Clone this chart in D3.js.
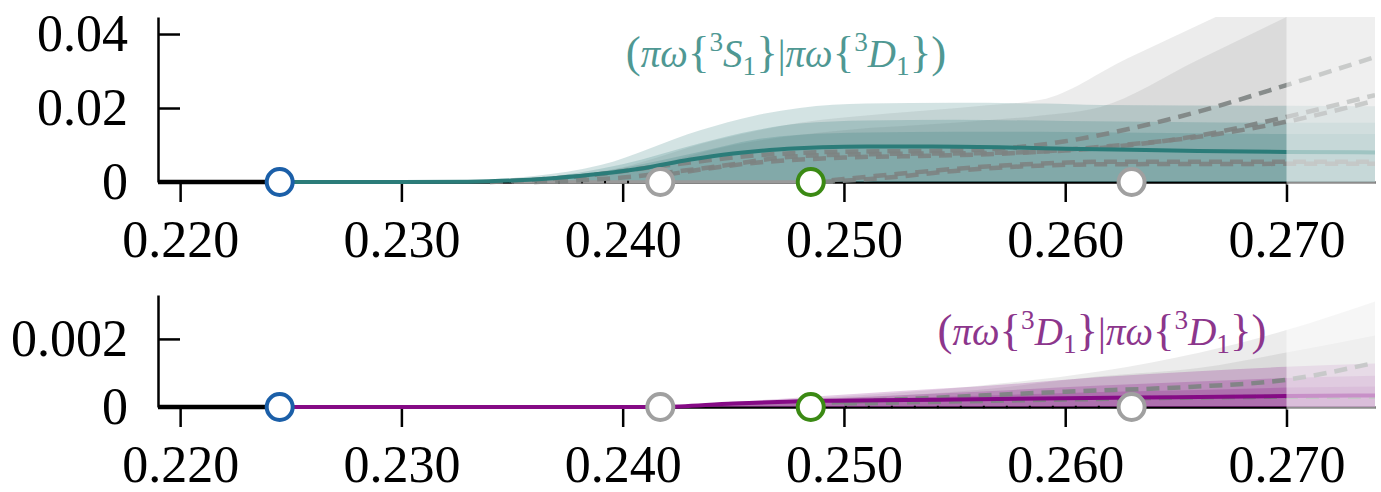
<!DOCTYPE html>
<html>
<head>
<meta charset="utf-8">
<script src="https://cdn.jsdelivr.net/npm/d3@7"></script>
<style>
body { margin: 0; background: #fff; }
svg { display: block; }
</style>
</head>
<body>
<svg id="chart" width="1381" height="492"></svg>
<script>
// values
const xTicks = [0.220, 0.230, 0.240, 0.250, 0.260, 0.270];
const xDomain = [0.219, 0.274];
const fadeFrom = 0.270;
const markerX = [0.2245, 0.2417, 0.2485, 0.2630];
const markerKind = ["blue", "gray", "green", "gray"];
const preLine = [[0.219, 0], [0.2245, 0]];

// top panel: (πω{3S1}|πω{3D1})
const topTicks = [0, 0.02, 0.04];
const topMax = 0.0446;
const topLine = [[0.2245, 0], [0.230, 0], [0.233, 0.0001], [0.235, 0.0004], [0.237, 0.0011], [0.239, 0.0022], [0.241, 0.0038], [0.243, 0.0060], [0.245, 0.0077], [0.247, 0.0088], [0.249, 0.0094], [0.251, 0.0096], [0.254, 0.0096], [0.257, 0.0094], [0.260, 0.0090], [0.263, 0.0087], [0.266, 0.0084], [0.270, 0.0081], [0.274, 0.0080]];
const topBandOuter = [[0.231, 0], [0.236, 0.0016], [0.239, 0.0046], [0.2435, 0.0140], [0.246, 0.0180], [0.248, 0.0200], [0.251, 0.0212], [0.255, 0.0214], [0.259, 0.0212], [0.2616, 0.0208], [0.270, 0.0206], [0.274, 0.0205]];
const topBandMid = [[0.232, 0], [0.236, 0.0010], [0.240, 0.0048], [0.2435, 0.0105], [0.246, 0.0140], [0.248, 0.0158], [0.251, 0.0166], [0.255, 0.0168], [0.260, 0.0165], [0.270, 0.0160], [0.274, 0.0160]];
const topBandInner = [[0.233, 0], [0.237, 0.0010], [0.240, 0.0038], [0.2435, 0.0082], [0.246, 0.0115], [0.248, 0.0128], [0.251, 0.0134], [0.255, 0.0136], [0.260, 0.0135], [0.270, 0.0130], [0.274, 0.0130]];
const topGrayOuter = [[0.236, 0], [0.240, 0.0040], [0.244, 0.0110], [0.248, 0.0160], [0.252, 0.0185], [0.256, 0.0205], [0.2589, 0.0222], [0.2628, 0.0334], [0.2668, 0.0446], [0.274, 0.0650]];
const topGrayInner = [[0.237, 0], [0.241, 0.0040], [0.245, 0.0100], [0.250, 0.0140], [0.255, 0.0160], [0.2589, 0.0180], [0.2616, 0.0203], [0.2659, 0.0327], [0.270, 0.0446], [0.274, 0.0560]];
const topDashA = [[0.234, 0], [0.238, 0.0015], [0.242, 0.0045], [0.246, 0.0072], [0.250, 0.0082], [0.254, 0.0084], [0.257, 0.0090], [0.260, 0.0110], [0.263, 0.0145], [0.266, 0.0190], [0.270, 0.0262], [0.274, 0.0338]];
const topDashB = [[0.236, 0], [0.240, 0.0012], [0.244, 0.0040], [0.248, 0.0070], [0.252, 0.0076], [0.256, 0.0078], [0.260, 0.0085], [0.2616, 0.0092], [0.266, 0.0125], [0.270, 0.0176], [0.274, 0.0235]];
const topDashC = [[0.242, 0.0020], [0.246, 0.0052], [0.250, 0.0066], [0.254, 0.0071], [0.258, 0.0079], [0.262, 0.0097], [0.266, 0.0122], [0.270, 0.0163], [0.274, 0.0220]];
const topDashD = [[0.2485, 0], [0.250, 0.0008], [0.253, 0.0025], [0.256, 0.0040], [0.259, 0.0050], [0.262, 0.0055], [0.266, 0.0055], [0.274, 0.0055]];
const topDashE = [[0.249, 0], [0.252, 0.0012], [0.255, 0.0030], [0.258, 0.0042], [0.262, 0.0048], [0.270, 0.0049], [0.274, 0.0049]];
const topGrayZero = [[0.235, 0], [0.2495, 0]];
const topDotZero = [[0.2350, 0], [0.2420, 0]];

// bottom panel: (πω{3D1}|πω{3D1})
const botTicks = [0, 0.002];
const botMax = 0.00329;
const botLine = [[0.2245, 0], [0.2417, 0], [0.245, 0.0001], [0.249, 0.00018], [0.255, 0.00022], [0.260, 0.00026], [0.265, 0.00029], [0.270, 0.00032], [0.274, 0.00034]];
const botBandOuter = [[0.2417, 0], [0.2485, 0.00030], [0.252, 0.00045], [0.256, 0.00060], [0.2616, 0.00088], [0.266, 0.00105], [0.270, 0.00118], [0.274, 0.00128]];
const botBandMid = [[0.2417, 0], [0.2485, 0.00022], [0.252, 0.00033], [0.256, 0.00045], [0.2616, 0.00063], [0.266, 0.00075], [0.270, 0.00085], [0.274, 0.00092]];
const botBandInner = [[0.2417, 0], [0.2485, 0.00015], [0.252, 0.00025], [0.256, 0.00033], [0.2616, 0.00044], [0.266, 0.00050], [0.270, 0.00057], [0.274, 0.00060]];
const botGrayOuter = [[0.2417, 0], [0.2485, 0.00025], [0.256, 0.00062], [0.2616, 0.00105], [0.2661, 0.0016], [0.270, 0.00226], [0.274, 0.0031]];
const botGrayInner = [[0.2417, 0], [0.2485, 0.00020], [0.256, 0.00050], [0.2616, 0.00090], [0.2661, 0.00115], [0.270, 0.0016], [0.274, 0.0021]];
const botDashA = [[0.2485, 0.0001], [0.255, 0.0003], [0.260, 0.00045], [0.2656, 0.00059], [0.270, 0.0008], [0.274, 0.0013]];
const botDashB = [[0.250, 0.0001], [0.260, 0.00022], [0.270, 0.0003], [0.274, 0.0003]];
const botDotZero = [[0.2490, 0], [0.2620, 0]];

const markerColor = {blue: "#1b5fa8", green: "#3b8a14", gray: "#a0a0a0"};
const FONT = "'Liberation Serif', 'Times New Roman', serif";

const svg = d3.select("#chart");
const x = d3.scaleLinear().domain(xDomain).range([158, 1375]);

const panels = [
	{
		id: "top", top: 17, base: 182, max: topMax, ticks: topTicks, tickFmt: d => d === 0 ? "0" : d3.format(".2f")(d),
		color: "#2e7d7a", lineColor: "#2b7c79", labelColor: "#4f9893",
		line: topLine, bands: [topBandOuter, topBandMid, topBandInner], bandAlpha: 0.21,
		grays: [topGrayOuter, topGrayInner],
		dashes: [topDashA, topDashB, topDashC, topDashD, topDashE],
		grayZero: topGrayZero, dotZero: topDotZero,
		label: [["(", "r"], ["πω", "i"], ["{", "r"], ["3", "sup"], ["S", "i"], ["1", "sub"], ["}", "r"], ["|", "r"], ["πω", "i"], ["{", "r"], ["3", "sup"], ["D", "i"], ["1", "sub"], ["}", "r"], [")", "r"]],
		labelX: 786, labelY: 67,
	},
	{
		id: "bot", top: 295, base: 407, max: botMax, ticks: botTicks, tickFmt: d => d === 0 ? "0" : d3.format(".3f")(d),
		color: "#800080", lineColor: "#850a85", labelColor: "#8c368c",
		line: botLine, bands: [botBandOuter, botBandMid, botBandInner], bandAlpha: 0.2,
		grays: [botGrayOuter, botGrayInner],
		dashes: [botDashA, botDashB],
		grayZero: null, dotZero: botDotZero,
		label: [["(", "r"], ["πω", "i"], ["{", "r"], ["3", "sup"], ["D", "i"], ["1", "sub"], ["}", "r"], ["|", "r"], ["πω", "i"], ["{", "r"], ["3", "sup"], ["D", "i"], ["1", "sub"], ["}", "r"], [")", "r"]],
		labelX: 1102, labelY: 345,
	},
];

panels.forEach(p => {
	const y = d3.scaleLinear().domain([0, p.max]).range([p.base, p.top]);
	const g = svg.append("g");

	svg.append("clipPath").attr("id", "clip-" + p.id)
		.append("rect").attr("x", 158).attr("y", p.top).attr("width", 1375 - 158).attr("height", p.base - p.top + 4);

	// axes
	const xa = g.append("g")
		.attr("transform", `translate(0,${p.base})`)
		.call(d3.axisBottom(x).tickValues(xTicks).tickFormat(d3.format(".3f")).tickSize(20).tickSizeOuter(0).tickPadding(18));
	const ya = g.append("g")
		.attr("transform", "translate(158,0)")
		.call(d3.axisLeft(y).tickValues(p.ticks).tickFormat(p.tickFmt).tickSize(-22).tickSizeOuter(0).tickPadding(30));
	[xa, ya].forEach(a => {
		a.attr("font-family", FONT).attr("font-size", 52);
		a.selectAll("path, line").attr("stroke", "#000").attr("stroke-width", 2.5);
		a.selectAll("text").attr("fill", "#000");
	});

	const plot = g.append("g").attr("clip-path", `url(#clip-${p.id})`);
	const area = d3.area().x(d => x(d[0])).y0(y(0)).y1(d => y(d[1])).curve(d3.curveMonotoneX);
	const line = d3.line().x(d => x(d[0])).y(d => y(d[1])).curve(d3.curveMonotoneX);

	p.grays.forEach(b => plot.append("path").attr("d", area(b)).attr("fill", "#6f6f6f").attr("fill-opacity", 0.13));
	p.bands.forEach(b => plot.append("path").attr("d", area(b)).attr("fill", p.color).attr("fill-opacity", p.bandAlpha));

	if (p.grayZero) {
		plot.append("path").attr("d", line(p.grayZero)).attr("fill", "none").attr("stroke", "#9a9a9a").attr("stroke-width", 3.5);
	}
	plot.append("path").attr("d", line(p.dotZero)).attr("fill", "none").attr("stroke", "#000").attr("stroke-width", 2.5).attr("stroke-dasharray", "2,21");

	p.dashes.forEach(d => plot.append("path").attr("d", line(d))
		.attr("fill", "none").attr("stroke", "#7d8382").attr("stroke-opacity", 0.9)
		.attr("stroke-width", 4.5).attr("stroke-dasharray", "13,8"));

	plot.append("path").attr("d", line(p.line)).attr("fill", "none").attr("stroke", p.lineColor).attr("stroke-width", 4);
	plot.append("path").attr("d", line(preLine)).attr("fill", "none").attr("stroke", "#000").attr("stroke-width", 4.5);

	// faded region past the last fit point
	g.append("rect")
		.attr("x", x(fadeFrom)).attr("y", p.top)
		.attr("width", x(xDomain[1]) - x(fadeFrom)).attr("height", p.base - p.top + 3)
		.attr("fill", "#fff").attr("fill-opacity", 0.55);

	// markers
	g.selectAll("circle.marker").data(markerX).join("circle")
		.attr("class", "marker")
		.attr("cx", d => x(d)).attr("cy", y(0)).attr("r", 13)
		.attr("fill", "#fff")
		.attr("stroke", (d, i) => markerColor[markerKind[i]])
		.attr("stroke-width", 4);

	// label
	const fs = 39;
	const t = g.append("text")
		.attr("x", p.labelX).attr("y", p.labelY)
		.attr("text-anchor", "middle")
		.attr("font-family", FONT).attr("font-size", fs)
		.attr("fill", p.labelColor);
	let shift = 0;
	p.label.forEach(([s, k]) => {
		const ts = t.append("tspan").text(s);
		let target = 0;
		if (k === "sup") { target = -0.42 * fs; ts.attr("font-size", fs * 0.7); }
		if (k === "sub") { target = 0.2 * fs; ts.attr("font-size", fs * 0.7); }
		if (k === "i") ts.attr("font-style", "italic");
		if (s === "{" || s === "}" || s === "(" || s === ")") ts.attr("font-size", fs * 1.15);
		ts.attr("dy", target - shift);
		shift = target;
	});
});
</script>
</body>
</html>
